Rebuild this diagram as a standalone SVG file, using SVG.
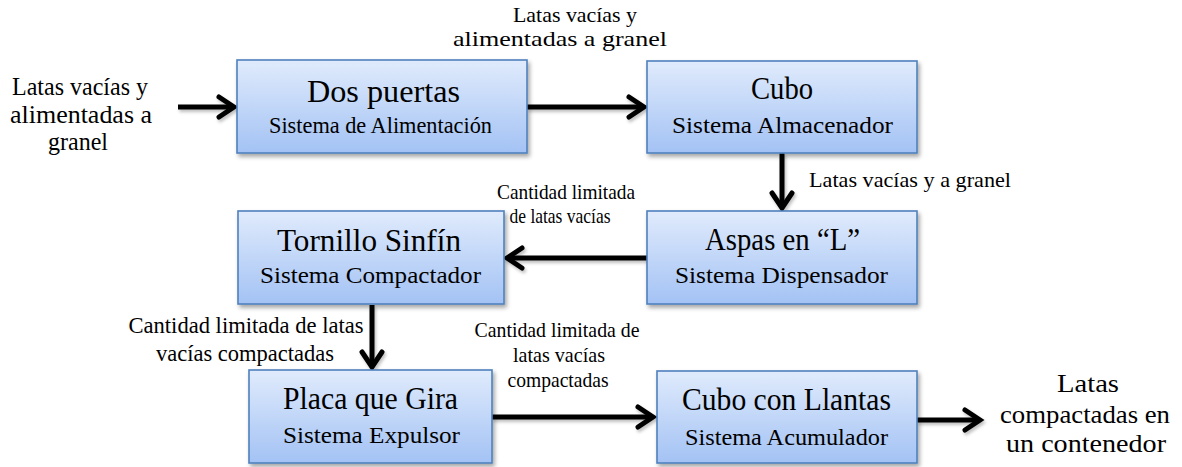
<svg xmlns="http://www.w3.org/2000/svg" width="1182" height="467" viewBox="0 0 1182 467">
<style>
.box{fill:url(#g);stroke:#4f81bd;stroke-width:1.6;filter:url(#sh)}
.t{font-family:"Liberation Serif",serif;fill:#000;text-anchor:middle}
.ti{font-size:32px}
.st{font-size:24px}
.lb{font-size:22px}
.lb2{font-size:24px}
.big{font-size:26px}
.c{fill:none;stroke:#000;stroke-width:5}
</style>
<defs>
<linearGradient id="g" x1="0" y1="0" x2="0" y2="1">
<stop offset="0" stop-color="#e0ebfc"/>
<stop offset="1" stop-color="#a3c2f4"/>
</linearGradient>
<filter id="sh" x="-10%" y="-10%" width="125%" height="130%">
<feDropShadow dx="2" dy="3" stdDeviation="2" flood-color="#000" flood-opacity="0.35"/>
</filter>
<filter id="sh2" x="-10%" y="-10%" width="125%" height="130%">
<feDropShadow dx="1.5" dy="2.5" stdDeviation="1.5" flood-color="#000" flood-opacity="0.25"/>
</filter>
<marker id="ah" markerUnits="userSpaceOnUse" markerWidth="26" markerHeight="28" refX="20" refY="13" orient="auto" viewBox="0 0 26 28">
<path d="M5,3 L20,13 L5,23" fill="none" stroke="#000" stroke-width="5" stroke-linecap="round" stroke-linejoin="miter"/>
</marker>
</defs>
<g id="connectors" filter="url(#sh2)">
<path class="c" d="M178,107 H234" marker-end="url(#ah)"/>
<path class="c" d="M527,107 H644" marker-end="url(#ah)"/>
<path class="c" d="M782,153 V208" marker-end="url(#ah)"/>
<path class="c" d="M647,258 H507" marker-end="url(#ah)"/>
<path class="c" d="M372,305 V367" marker-end="url(#ah)"/>
<path class="c" d="M492,417 H653" marker-end="url(#ah)"/>
<path class="c" d="M917,420 H980" marker-end="url(#ah)"/>
</g>
<g id="n1">
<rect class="box" x="237" y="60" width="290" height="93"/>
<text class="t ti" x="383.5" y="102" textLength="153" lengthAdjust="spacingAndGlyphs">Dos puertas</text>
<text class="t st" x="380.5" y="133" textLength="223" lengthAdjust="spacingAndGlyphs">Sistema de Alimentación</text>
</g>
<g id="n2">
<rect class="box" x="647" y="61" width="270" height="92"/>
<text class="t ti" x="782" y="99" textLength="62" lengthAdjust="spacingAndGlyphs">Cubo</text>
<text class="t st" x="782.5" y="133" textLength="221" lengthAdjust="spacingAndGlyphs">Sistema Almacenador</text>
</g>
<g id="n3">
<rect class="box" x="647" y="211" width="270" height="93"/>
<text class="t ti" x="782.5" y="250" textLength="155" lengthAdjust="spacingAndGlyphs">Aspas en “L”</text>
<text class="t st" x="781.5" y="283" textLength="213" lengthAdjust="spacingAndGlyphs">Sistema Dispensador</text>
</g>
<g id="n4">
<rect class="box" x="238" y="211" width="266" height="93"/>
<text class="t ti" x="369" y="251" textLength="184" lengthAdjust="spacingAndGlyphs">Tornillo Sinfín</text>
<text class="t st" x="370.5" y="283" textLength="221" lengthAdjust="spacingAndGlyphs">Sistema Compactador</text>
</g>
<g id="n5">
<rect class="box" x="249" y="370" width="243" height="93"/>
<text class="t ti" x="370.5" y="409" textLength="175" lengthAdjust="spacingAndGlyphs">Placa que Gira</text>
<text class="t st" x="371.5" y="443" textLength="177" lengthAdjust="spacingAndGlyphs">Sistema Expulsor</text>
</g>
<g id="n6">
<rect class="box" x="657" y="371" width="260" height="92"/>
<text class="t ti" x="786.5" y="410" textLength="209" lengthAdjust="spacingAndGlyphs">Cubo con Llantas</text>
<text class="t st" x="786.5" y="445" textLength="203" lengthAdjust="spacingAndGlyphs">Sistema Acumulador</text>
</g>
<g id="labels">
<text class="t big" x="80" y="95" textLength="136" lengthAdjust="spacingAndGlyphs">Latas vacías y</text>
<text class="t big" x="81" y="123" textLength="142" lengthAdjust="spacingAndGlyphs">alimentadas a</text>
<text class="t big" x="78" y="150" textLength="60" lengthAdjust="spacingAndGlyphs">granel</text>
<text class="t lb" x="575" y="22" textLength="124" lengthAdjust="spacingAndGlyphs">Latas vacías y</text>
<text class="t lb" x="560" y="46" textLength="214" lengthAdjust="spacingAndGlyphs">alimentadas a granel</text>
<text class="t lb" x="910" y="187" textLength="202" lengthAdjust="spacingAndGlyphs">Latas vacías y a granel</text>
<text class="t lb" x="566" y="199" textLength="138" lengthAdjust="spacingAndGlyphs">Cantidad limitada</text>
<text class="t lb" x="560" y="223" textLength="101" lengthAdjust="spacingAndGlyphs">de latas vacías</text>
<text class="t lb2" x="246" y="333" textLength="235" lengthAdjust="spacingAndGlyphs">Cantidad limitada de latas</text>
<text class="t lb2" x="245" y="361" textLength="178" lengthAdjust="spacingAndGlyphs">vacías compactadas</text>
<text class="t lb" x="557" y="337" textLength="165" lengthAdjust="spacingAndGlyphs">Cantidad limitada de</text>
<text class="t lb" x="559" y="362" textLength="92" lengthAdjust="spacingAndGlyphs">latas vacías</text>
<text class="t lb" x="558" y="387" textLength="101" lengthAdjust="spacingAndGlyphs">compactadas</text>
<text class="t big" x="1088" y="392" textLength="62" lengthAdjust="spacingAndGlyphs">Latas</text>
<text class="t big" x="1085" y="423" textLength="170" lengthAdjust="spacingAndGlyphs">compactadas en</text>
<text class="t big" x="1086" y="452" textLength="160" lengthAdjust="spacingAndGlyphs">un contenedor</text>
</g>
</svg>
